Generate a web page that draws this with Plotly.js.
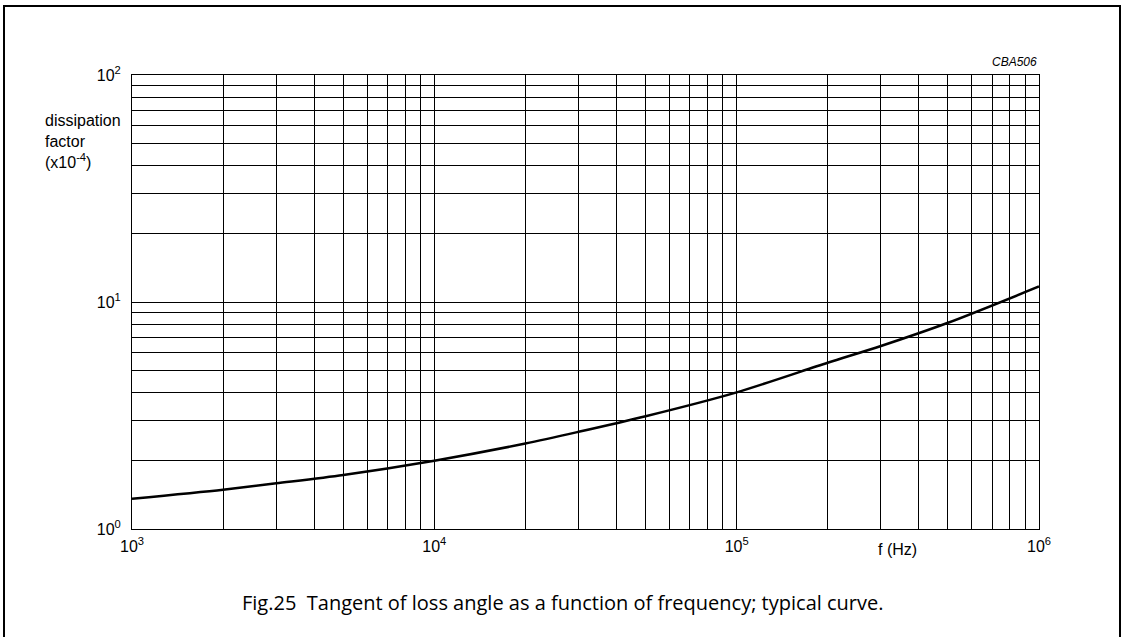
<!DOCTYPE html>
<html>
<head>
<meta charset="utf-8">
<script src="https://cdn.plot.ly/plotly-3.0.1.min.js"></script>
<style>
  html, body { margin: 0; padding: 0; background: #fff; }
  #wrap { position: relative; width: 1123px; height: 637px; overflow: hidden; }
  #chart { position: absolute; left: 0; top: 0; width: 1123px; height: 637px; }
  #frame { position: absolute; left: 3px; top: 5px; width: 1114px; height: 700px;
           border-left: 2px solid #000; border-top: 2px solid #000; border-right: 2px solid #000;
           pointer-events: none; }
</style>
</head>
<body>
<div id="wrap">
  <div id="chart"></div>
  <div id="frame"></div>
</div>
<script>
// Curve (frequency in Hz, dissipation factor x10^-4)
const frequency = [1e3, 2e3, 3e3, 5e3, 1e4, 2e4, 3e4, 5e4, 1e5, 2e5, 3e5, 5e5, 1e6];
const dissipation = [1.36, 1.49, 1.59, 1.73, 2.0, 2.38, 2.68, 3.14, 4.0, 5.4, 6.4, 8.1, 11.7];

// Axis decades and labels
const xDecades = [1e3, 1e4, 1e5, 1e6];
const xDecadeLabels = ['10<sup>3</sup>', '10<sup>4</sup>', '10<sup>5</sup>', '10<sup>6</sup>'];
const yDecades = [1, 10, 100];
const yDecadeLabels = ['10<sup>0</sup>', '10<sup>1</sup>', '10<sup>2</sup>'];

const captionText = 'Fig.25  Tangent of loss angle as a function of frequency; typical curve.';
const yLabelText = 'dissipation<br>factor<br>(x10<sup>-4</sup>)';
const xLabelText = 'f (Hz)';
const codeText = 'CBA506';

// minor gridlines at 2..9 times each decade
function minorVals(decades) {
  const vals = [];
  for (let i = 0; i < decades.length - 1; i++) {
    for (let m = 2; m <= 9; m++) vals.push(decades[i] * m);
  }
  return vals;
}

const sans = 'Liberation Sans, Arial, sans-serif';
const tickFont = { family: sans, size: 16, color: '#000' };

const data = [{
  x: frequency, y: dissipation, type: 'scatter', mode: 'lines',
  line: { color: '#000', width: 2.5, shape: 'spline', smoothing: 0.8 },
  hoverinfo: 'skip'
}];

function axis(range, decades, labels, standoff) {
  return {
    type: 'log', range: range, tickmode: 'array', tickvals: decades, ticktext: labels,
    showgrid: true, gridcolor: '#000', gridwidth: 1, zeroline: false,
    showline: true, linecolor: '#000', linewidth: 1, mirror: true,
    ticks: '', tickfont: tickFont, ticklabelstandoff: standoff,
    minor: { tickmode: 'array', tickvals: minorVals(decades), showgrid: true,
             gridcolor: '#000', gridwidth: 1, ticks: '' }
  };
}

const layout = {
  width: 1123, height: 637,
  margin: { l: 132, r: 84, t: 75, b: 108, pad: 0 },
  paper_bgcolor: '#fff', plot_bgcolor: '#fff',
  showlegend: false,
  xaxis: axis([3, 6], xDecades, xDecadeLabels, 3),
  yaxis: axis([0, 2], yDecades, yDecadeLabels, 7),
  annotations: [
    { text: yLabelText, xref: 'paper', yref: 'paper', x: -0.098, y: 0.922, xanchor: 'left', yanchor: 'top',
      align: 'left', showarrow: false, font: { family: sans, size: 16, color: '#000' } },
    { text: xLabelText, xref: 'paper', yref: 'paper', x: 0.844, y: -0.046, xanchor: 'center', yanchor: 'middle',
      showarrow: false, font: { family: sans, size: 16, color: '#000' } },
    { text: '<i>' + codeText + '</i>', xref: 'paper', yref: 'paper', x: 1, y: 1.008, xanchor: 'right', yanchor: 'bottom',
      showarrow: false, font: { family: sans, size: 12, color: '#000' } },
    { text: captionText, xref: 'paper', yref: 'paper', x: 0.475, y: -0.162, xanchor: 'center', yanchor: 'middle',
      showarrow: false, font: { family: 'Open Sans, Noto Sans, sans-serif', size: 20, color: '#000' } }
  ]
};

Plotly.newPlot('chart', data, layout, { staticPlot: true, displayModeBar: false });
</script>
</body>
</html>
